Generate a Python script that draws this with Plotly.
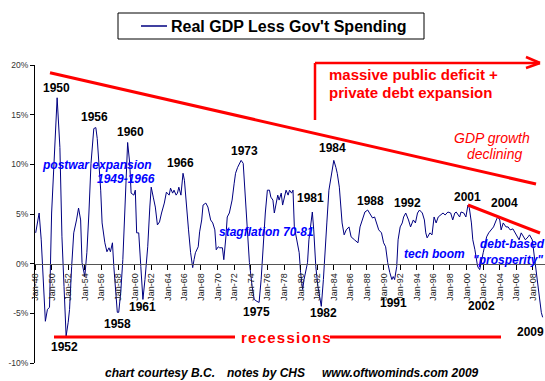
import plotly.graph_objects as go

# ---- data ----
dates = [
    "1948-02", "1948-07", "1948-10", "1949-01", "1949-04", "1949-07", "1949-10",
    "1950-01", "1950-05", "1950-09", "1951-01", "1951-04", "1951-07", "1951-10",
    "1952-01", "1952-03", "1952-06", "1952-09", "1953-01", "1953-04", "1953-07", "1953-09",
    "1954-01", "1954-04", "1954-07", "1954-10", "1955-02", "1955-05", "1955-07", "1955-09", "1955-12",
    "1956-02", "1956-06", "1956-09", "1956-12", "1957-02", "1957-05", "1957-07", "1957-10", "1957-12",
    "1958-02", "1958-05", "1958-08", "1958-12", "1959-03", "1959-06", "1959-08", "1959-12",
    "1960-02", "1960-04", "1960-07", "1960-10", "1961-01", "1961-04", "1961-08", "1961-11",
    "1962-01", "1962-04", "1962-07", "1962-10", "1963-01", "1963-04", "1963-08", "1963-11",
    "1964-03", "1964-05", "1964-08", "1964-10", "1965-01", "1965-03", "1965-05", "1965-08", "1965-11",
    "1966-01", "1966-04", "1966-07", "1966-10", "1967-01", "1967-03", "1967-05", "1967-09", "1967-11",
    "1968-02", "1968-04", "1968-08", "1968-11", "1969-03", "1969-06", "1969-09", "1969-11",
    "1970-02", "1970-04", "1970-08", "1970-10", "1971-01", "1971-03", "1971-06", "1971-10",
    "1972-01", "1972-03", "1972-06", "1972-11", "1973-02", "1973-04", "1973-06", "1973-08", "1973-11",
    "1974-03", "1974-06", "1974-10", "1975-01", "1975-04", "1975-07", "1975-10",
    "1976-01", "1976-04", "1976-06", "1976-09", "1976-11", "1977-02", "1977-04", "1977-06", "1977-09", "1977-11",
    "1978-02", "1978-04", "1978-07", "1978-09", "1978-12", "1979-02", "1979-04", "1979-08", "1979-11",
    "1980-01", "1980-04", "1980-06", "1980-08", "1980-11", "1981-01", "1981-04", "1981-06", "1981-08", "1981-11",
    "1982-02", "1982-05", "1982-07", "1982-10", "1982-12", "1983-03", "1983-06", "1983-10",
    "1984-01", "1984-04", "1984-06", "1984-09", "1984-11", "1985-01", "1985-04", "1985-07", "1985-11",
    "1986-02", "1986-07", "1986-12", "1987-03", "1987-07", "1987-10",
    "1988-02", "1988-06", "1988-09", "1988-12", "1989-03", "1989-06", "1989-10",
    "1990-01", "1990-04", "1990-07", "1990-10", "1991-01", "1991-03", "1991-05", "1991-08", "1991-10",
    "1992-01", "1992-04", "1992-06", "1992-09", "1993-01", "1993-04", "1993-08", "1993-11",
    "1994-02", "1994-05", "1994-09", "1994-12", "1995-02", "1995-04", "1995-08", "1995-11",
    "1996-02", "1996-05", "1996-08", "1996-11", "1997-03", "1997-06", "1997-10",
    "1998-02", "1998-05", "1998-08", "1998-10", "1999-03", "1999-05", "1999-09", "1999-12",
    "2000-03", "2000-05", "2000-08", "2000-10", "2001-01", "2001-03", "2001-05", "2001-08", "2001-10",
    "2002-01", "2002-03", "2002-06", "2002-09", "2003-01", "2003-04", "2003-08", "2003-10",
    "2004-01", "2004-03", "2004-06", "2004-10", "2005-01", "2005-04", "2005-08", "2005-11",
    "2006-02", "2006-05", "2006-08", "2006-11", "2007-02", "2007-06", "2007-08", "2007-12",
    "2008-03", "2008-06", "2008-10", "2009-01", "2009-03",
]

gdp_less_gov = [
    3.1, 5.1, 2.4, -1.6, -5.8, -4.6, -4.4,
    5.1, 11.7, 16.7, 11.7, 2.7, -2.3, -7.3,
    -5.9, -4.6, -0.3, 3.1, 4.4, 5.6, 4.4, 0.1,
    -1.3, 1.1, 5.1, 10.1, 13.6, 13.7, 12.6, 10.6, 7.4,
    4.1, 2.1, 1.2, 1.6, 1.2, 2.1, -0.3, -3.3, -4.9,
    -4.9, -2.9, 0.4, 7.4, 12.2, 10.1, 7.1, 6.9,
    7.4, 3.1, 3.1, -0.3, -3.6, -1.6, 1.7, 5.7,
    7.7, 6.7, 5.7, 3.9, 4.2, 5.1, 6.1, 7.2,
    6.9, 7.6, 7.1, 7.4, 6.9, 7.1, 7.7, 6.9, 9.1,
    8.4, 5.4, 3.4, 1.1, -0.4, 0.4, 1.1, 1.7, 3.2,
    4.4, 5.9, 6.1, 5.7, 4.4, 4.1, 3.4, 1.4,
    1.7, 1.6, 1.6, 0.4, 2.7, 4.7, 5.1, 6.4,
    8.1, 9.1, 9.7, 10.4, 10.1, 8.1, 5.7, 3.1, 0.1,
    -2.3, -3.6, -3.8, -3.9, -1.6, 2.1, 5.1,
    7.4, 7.4, 6.7, 6.4, 5.1, 6.1, 6.9, 6.4, 7.1, 5.9,
    6.7, 7.4, 6.9, 7.4, 7.1, 7.4, 3.7, 2.1, 1.1,
    -0.9, -2.6, -1.6, -0.9, 0.1, 2.4, 4.4, 5.2, 3.4, -0.3,
    -2.3, -3.6, -4.3, -1.6, 1.1, 4.1, 7.4, 9.4,
    10.4, 9.7, 9.1, 7.7, 5.7, 4.1, 2.9, 3.4, 3.7,
    2.7, 2.4, 2.1, 3.7, 4.7, 5.2,
    5.4, 4.9, 4.6, 4.7, 4.1, 3.4, 3.1,
    2.1, 1.7, 0.1, -0.9, -1.6, -1.3, -1.6, -0.3, 2.4,
    3.7, 4.1, 4.7, 5.1, 4.4, 3.7, 4.4, 4.1,
    5.1, 5.4, 5.1, 4.4, 3.1, 2.6, 3.1, 2.9,
    4.7, 4.1, 4.7, 4.9, 5.1, 4.9, 5.2,
    5.1, 4.4, 5.1, 5.2, 4.7, 5.2, 5.1, 4.7,
    5.9, 5.6, 4.1, 2.4, 1.4, 0.4, -0.3, -0.6, 0.2,
    1.1, 1.7, 2.7, 3.1, 3.4, 3.7, 4.4, 4.7,
    4.4, 3.4, 4.1, 3.7, 3.7, 3.4, 3.5, 3.1,
    2.7, 2.4, 3.1, 2.7, 2.4, 2.7, 2.9, 2.4,
    0.7, -0.9, -2.9, -4.9, -5.4,
]

y_ticks = [-10, -5, 0, 5, 10, 15, 20]
y_tick_labels = ["-10%", "-5%", "0%", "5%", "10%", "15%", "20%"]

series_name = "Real GDP Less Gov't Spending"

# ---- layout helpers (pixel -> paper) ----
W, H = 545, 381
L, R, T, B = 35, 0, 65, 18
PW, PH = W - L - R, H - T - B


def px(x):
    return (x - L) / PW


def py(y):
    return (H - B - y) / PH


FONT = "Liberation Sans, Arial, sans-serif"
RED = "#ff0000"
BLUE = "#0000ff"
NAVY = "#000080"

fig = go.Figure()
fig.add_trace(go.Scatter(
    x=dates, y=gdp_less_gov, mode="lines", name=series_name,
    line=dict(color=NAVY, width=1), showlegend=False, hoverinfo="skip",
))

shapes = []


def seg(x0, y0, x1, y1, color=RED, width=3):
    shapes.append(dict(type="line", xref="paper", yref="paper",
                       x0=px(x0), y0=py(y0), x1=px(x1), y1=py(y1),
                       line=dict(color=color, width=width)))


# title / legend box
shapes.append(dict(type="rect", xref="paper", yref="paper",
                   x0=px(118), y0=py(13), x1=px(424), y1=py(39),
                   line=dict(color="black", width=1), fillcolor="white"))
seg(141, 26, 167, 26, color=NAVY, width=1.5)

# red trend lines
seg(50, 72.7, 536, 184)
seg(468, 205, 540, 233)
# recession baseline
seg(54, 337, 235, 337)
seg(330, 337, 501, 337)
# arrow
seg(315, 120, 315, 63, width=2.5)
seg(315, 63, 540, 63, width=2.5)
seg(526, 57, 540, 63, width=2.5)
seg(526, 68, 540, 63, width=2.5)

annotations = []


def label(text, x, y, size=12, color="black", bold=True, italic=False, anchor="center"):
    t = text
    if bold:
        t = "<b>" + t + "</b>"
    if italic:
        t = "<i>" + t + "</i>"
    annotations.append(dict(text=t, xref="paper", yref="paper", x=px(x), y=py(y),
                            xanchor=anchor, yanchor="middle", showarrow=False,
                            font=dict(family=FONT, size=size, color=color)))


label(series_name, 169, 26, size=16, anchor="left")

# year labels
for txt, x, y in [("1950", 56, 88), ("1956", 94.5, 117), ("1960", 130, 132),
                  ("1966", 180, 163), ("1973", 244.5, 151), ("1981", 310, 198),
                  ("1984", 332, 148), ("1988", 370, 201), ("1992", 407.5, 203),
                  ("2001", 467, 197), ("2004", 504, 203),
                  ("1952", 64, 347), ("1958", 117.5, 324), ("1961", 142.5, 307),
                  ("1975", 256, 311.5), ("1982", 323, 313), ("1991", 393, 303),
                  ("2002", 481, 306), ("2009", 530, 332)]:
    label(txt, x, y, size=12)

label("r e c e s s i o n s".replace(" ", "\u200a"), 286, 337, size=15, color=RED)
label("massive public deficit +", 327, 74, size=15, color=RED, anchor="left")
label("private debt expansion", 327, 92, size=15, color=RED, anchor="left")
label("GDP growth", 492, 138, size=14, color=RED, bold=False, italic=True)
label("declining", 494, 154, size=14, color=RED, bold=False, italic=True)

label("postwar expansion", 154, 165, size=12, color=BLUE, italic=True, anchor="right")
label("1949-1966", 157, 179, size=12, color=BLUE, italic=True, anchor="right")
label("stagflation 70-81", 266, 232, size=12, color=BLUE, italic=True)
label("tech boom", 434, 254, size=12, color=BLUE, italic=True)
label("debt-based", 512, 244, size=12, color=BLUE, italic=True)
label("\"prosperity\"", 508, 260, size=12, color=BLUE, italic=True)

label("chart courtesy B.C.", 103, 373, size=12, italic=True, anchor="left")
label("notes by CHS", 225, 373, size=12, italic=True, anchor="left")
label("www.oftwominds.com 2009", 320, 373, size=12, italic=True, anchor="left")

fig.update_layout(
    width=W, height=H,
    margin=dict(l=L, r=R, t=T, b=B, pad=0),
    paper_bgcolor="white", plot_bgcolor="white",
    showlegend=False, hovermode=False,
    shapes=shapes, annotations=annotations,
    xaxis=dict(
        type="date", range=["1948-01-01", "2009-06-13"], autorange=False,
        tick0="1948-01-01", dtick="M24", tickformat="%b-%y", tickangle=-90,
        anchor="free", position=1 / 3,
        showgrid=False, zeroline=False, showline=True, linecolor="#555555", linewidth=1,
        ticks="outside", ticklen=5, tickcolor="black",
        tickfont=dict(family=FONT, size=9, color="#222222"),
    ),
    yaxis=dict(
        range=[-10, 20], autorange=False,
        tickvals=y_ticks, ticktext=y_tick_labels,
        showgrid=False, zeroline=False, showline=True, linecolor="black", linewidth=1,
        ticks="outside", ticklen=4, tickcolor="black",
        tickfont=dict(family=FONT, size=8.5, color="#333333"),
    ),
)

fig.write_html(
    "out.html",
    config={"displayModeBar": False, "staticPlot": True},
    post_script="document.body.style.margin='0';document.body.style.padding='0';document.body.style.overflow='hidden';",
)
